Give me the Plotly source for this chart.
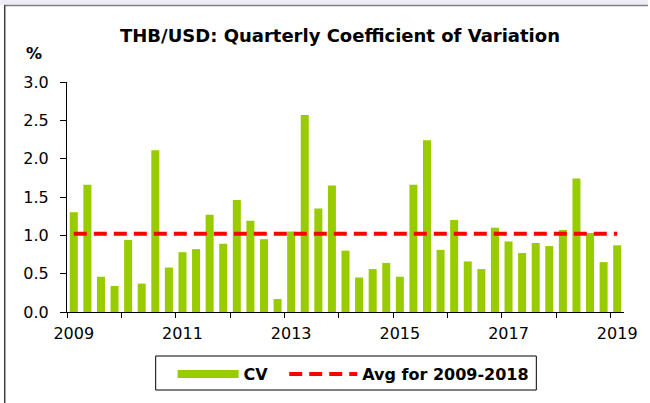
import plotly.graph_objects as go

# ---- data ----
years = [2009, 2010, 2011, 2012, 2013, 2014, 2015, 2016, 2017, 2018, 2019]
cv = [1.30, 1.66, 0.46, 0.34, 0.94, 0.37, 2.11, 0.58, 0.78, 0.82,
      1.27, 0.89, 1.46, 1.19, 0.95, 0.17, 1.05, 2.57, 1.35, 1.65,
      0.80, 0.45, 0.56, 0.64, 0.46, 1.66, 2.24, 0.81, 1.20, 0.66,
      0.56, 1.10, 0.92, 0.77, 0.90, 0.86, 1.07, 1.74, 1.03, 0.65, 0.87]
avg_2009_2018 = 1.02
tick_years = ["2009", "2011", "2013", "2015", "2017", "2019"]

quarters = [f"{y}Q{q}" for y in years for q in range(1, 5)][:len(cv)]
xpos = list(range(len(cv)))
tick_pos = [quarters.index(f"{y}Q1") for y in tick_years]

FONT = "DejaVu Sans"
W, H = 650, 403
L, R, T, B = 67, 24, 82, 91
PW, PH = W - L - R, H - T - B


def xp(px):
    return (px - L) / PW


def yp(py):
    return (H - B - py) / PH


fig = go.Figure()
fig.add_trace(go.Bar(
    x=xpos, y=cv, customdata=quarters, width=0.59,
    marker=dict(color="#99CC00", line=dict(width=0)),
    name="CV", showlegend=False,
    hovertemplate="%{customdata}: %{y:.2f}<extra></extra>",
))
fig.add_trace(go.Scatter(
    x=[xpos[0], xpos[-1]], y=[avg_2009_2018, avg_2009_2018],
    mode="lines", line=dict(color="#FF0000", width=4, dash="13px,7px"),
    name="Avg for 2009-2018", showlegend=False, hoverinfo="skip",
))
# legend entries (wide swatches like the original)
fig.add_trace(go.Scatter(
    x=[None], y=[None], mode="lines",
    line=dict(color="#99CC00", width=8), name="CV", legend="legend",
))
fig.add_trace(go.Scatter(
    x=[None], y=[None], mode="lines",
    line=dict(color="#FF0000", width=4, dash="13px,7px"),
    name="Avg for 2009-2018", legend="legend2",
))

legend_common = dict(
    orientation="h", xanchor="left", yanchor="top", y=yp(357),
    borderwidth=0, bgcolor="rgba(0,0,0,0)",
    font=dict(family=FONT, size=16, weight="bold", color="black"),
)

fig.update_layout(
    width=W, height=H,
    margin=dict(l=L, r=R, t=T, b=B, pad=0),
    paper_bgcolor="white", plot_bgcolor="white",
    font=dict(family=FONT, size=16, color="black"),
    title=dict(
        text="THB/USD: Quarterly Coefficient of Variation",
        font=dict(family=FONT, size=18, weight="bold", color="black"),
        x=340 / W, xanchor="center", xref="container",
        y=1 - 36 / H, yanchor="middle", yref="container",
    ),
    xaxis=dict(
        range=[-0.5, len(cv) - 0.5],
        tickmode="array", tickvals=tick_pos, ticktext=tick_years,
        ticks="", showgrid=False, zeroline=False,
        showline=True, linecolor="black", linewidth=1.3,
        tickfont=dict(family=FONT, size=16),
        ticklabelstandoff=7,
        minor=dict(tick0=-0.5, dtick=4, ticks="outside", ticklen=5,
                   tickcolor="black", tickwidth=1, showgrid=False),
    ),
    yaxis=dict(
        range=[0, 3.0], tickmode="linear", tick0=0, dtick=0.5,
        tickformat=".1f", ticks="outside", ticklen=6, tickcolor="black",
        showgrid=False, zeroline=False,
        showline=True, linecolor="black", linewidth=1,
        tickfont=dict(family=FONT, size=16),
        ticklabelstandoff=8,
    ),
    legend=dict(x=xp(173), itemwidth=61, **legend_common),
    legend2=dict(x=xp(285), itemwidth=68, **legend_common),
    showlegend=True,
    annotations=[dict(
        text="<b>%</b>", x=xp(34), y=yp(53.3), xref="paper", yref="paper",
        xanchor="center", yanchor="middle", showarrow=False,
        font=dict(family=FONT, size=16, color="black"),
    )],
    shapes=[
        dict(type="rect", xref="paper", yref="paper",
             x0=xp(0), x1=xp(W), y0=yp(0), y1=yp(5),
             fillcolor="#EDEDF5", line=dict(width=0), layer="below"),
        dict(type="line", xref="paper", yref="paper",
             x0=xp(4), x1=xp(W), y0=yp(5.5), y1=yp(5.5),
             line=dict(color="#808080", width=1.5)),
        dict(type="line", xref="paper", yref="paper",
             x0=xp(4.5), x1=xp(4.5), y0=yp(5), y1=yp(H),
             line=dict(color="#404040", width=1.5)),
        # legend frame
        dict(type="rect", xref="paper", yref="paper",
             x0=xp(156), x1=xp(538), y0=yp(356), y1=yp(390),
             line=dict(color="black", width=1), fillcolor="rgba(0,0,0,0)"),
    ],
)

fig.write_html("out.html",
               config={"displayModeBar": False},
               post_script="document.body.style.margin='0px';")
